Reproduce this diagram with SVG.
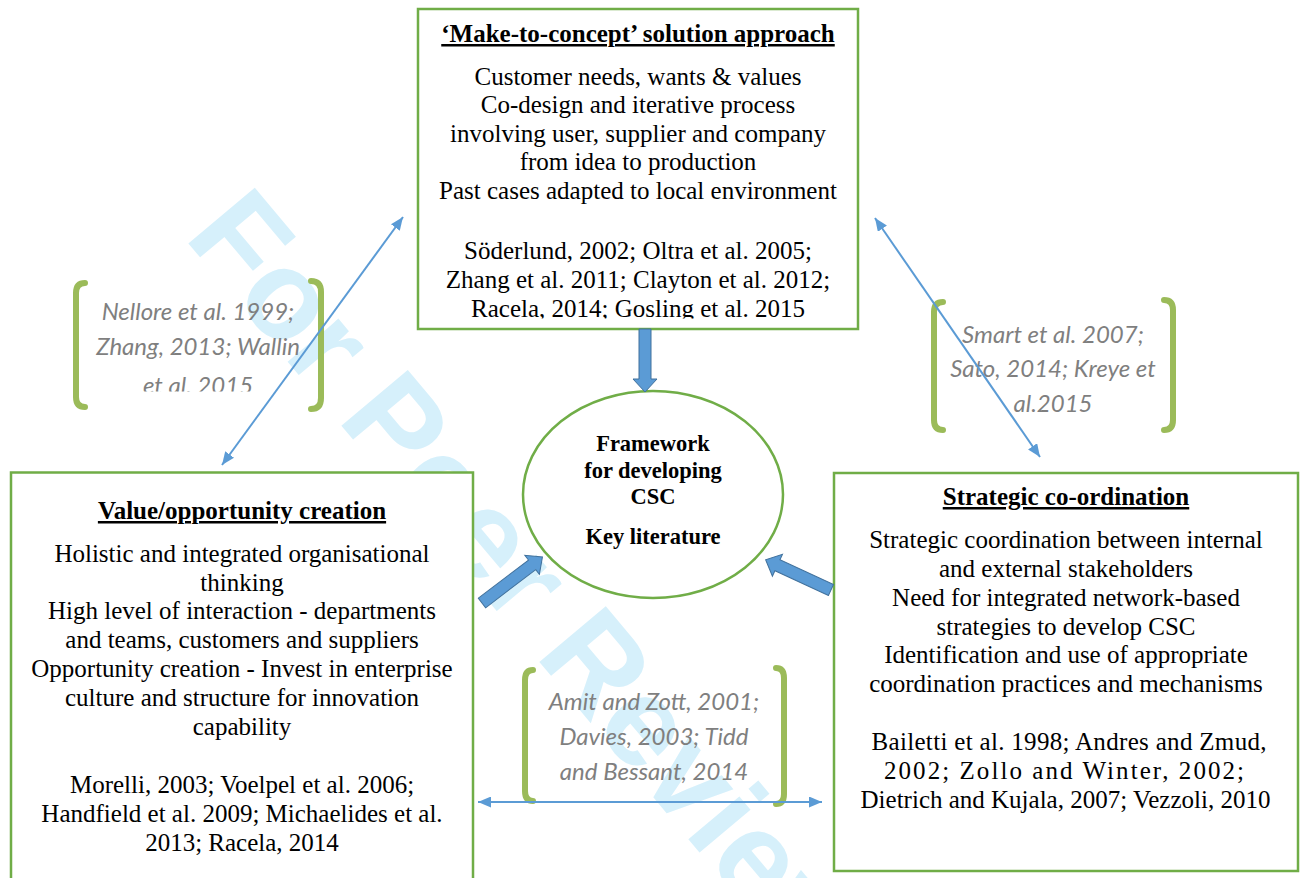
<svg xmlns="http://www.w3.org/2000/svg" width="1301" height="878" viewBox="0 0 1301 878">
<style>
.box{fill:#ffffff;stroke:#70ad47;stroke-width:2.5}
.t{font-family:"Liberation Serif","Times New Roman",serif;font-size:25px;fill:#000;text-anchor:middle}
.h{font-weight:bold;text-decoration:underline}
.c{font-family:"Liberation Serif","Times New Roman",serif;font-size:22.5px;font-weight:bold;fill:#000;text-anchor:middle}
.g{font-family:Lato,"Open Sans",sans-serif;font-style:italic;font-size:24px;fill:#7f7f7f;text-anchor:middle}
.br{fill:none;stroke:#9bbb59;stroke-width:6;stroke-linecap:round}
.ln{fill:none;stroke:#5b9bd5;stroke-width:2}
.blk{fill:#5b9bd5;stroke:#41719c;stroke-width:1}
.wm{font-family:"Liberation Sans",Arial,sans-serif;font-weight:bold;font-size:126px;fill:#d6f0fb}
</style>
<defs>
<marker id="ah" viewBox="0 0 13 11" refX="13" refY="5.5" markerWidth="13" markerHeight="11" markerUnits="userSpaceOnUse" orient="auto-start-reverse">
<path d="M0,0 L13,5.5 L0,11 Z" fill="#5b9bd5"/>
</marker>
<clipPath id="clipTop"><rect x="418" y="9" width="440" height="309.5"/></clipPath>
<clipPath id="clipL"><rect x="60" y="270" width="280" height="121.5"/></clipPath>
</defs>
<rect width="1301" height="878" fill="#ffffff"/>
<text class="wm" x="183" y="237" transform="rotate(50 183 237)">For Peer Review</text>

<g id="top-node">
<rect class="box" x="418" y="9" width="440" height="320"/>
<g clip-path="url(#clipTop)">
<text class="t h" x="638" y="42">‘Make-to-concept’ solution approach</text>
<text class="t" x="638" y="84.5">Customer needs, wants &amp; values</text>
<text class="t" x="638" y="113">Co-design and iterative process</text>
<text class="t" x="638" y="141.7">involving user, supplier and company</text>
<text class="t" x="638" y="170.4">from idea to production</text>
<text class="t" x="638" y="199">Past cases adapted to local environment</text>
<text class="t" x="638" y="259">Söderlund, 2002; Oltra et al. 2005;</text>
<text class="t" x="638" y="288">Zhang et al. 2011; Clayton et al. 2012;</text>
<text class="t" x="638" y="317">Racela, 2014; Gosling et al. 2015</text>
</g>
</g>

<g id="bracket-left">
<path class="br" d="M85,283 Q76,283 76,293 L76,397 Q76,407 85,407"/>
<path class="br" d="M311,281 Q321,281 321,292 L321,398 Q321,409 311,409"/>
<g clip-path="url(#clipL)">
<text class="g" x="198" y="320">Nellore et al. 1999;</text>
<text class="g" x="198" y="355">Zhang, 2013; Wallin</text>
<text class="g" x="198" y="393.5">et al. 2015</text>
</g>
</g>

<g id="bracket-right">
<path class="br" d="M943,302 Q934,302 934,312 L934,420 Q934,430 943,430"/>
<path class="br" d="M1164,300 Q1173,300 1173,310 L1173,420 Q1173,430 1164,430"/>
<text class="g" x="1053" y="343">Smart et al. 2007;</text>
<text class="g" x="1053" y="377">Sato, 2014; Kreye et</text>
<text class="g" x="1053" y="412">al.2015</text>
</g>

<g id="bracket-bottom">
<path class="br" d="M533,670 Q525,670 525,680 L525,791 Q525,801 533,801"/>
<path class="br" d="M776,668 Q784,668 784,678 L784,794 Q784,804 776,804"/>
<text class="g" x="654" y="710">Amit and Zott, 2001;</text>
<text class="g" x="654" y="745">Davies, 2003; Tidd</text>
<text class="g" x="654" y="780">and Bessant, 2014</text>
</g>

<g id="left-node">
<rect class="box" x="11" y="472.5" width="462" height="430"/>
<text class="t h" x="242" y="519">Value/opportunity creation</text>
<text class="t" x="242" y="562">Holistic and integrated organisational</text>
<text class="t" x="242" y="590.5">thinking</text>
<text class="t" x="242" y="619.3">High level of interaction - departments</text>
<text class="t" x="242" y="648">and teams, customers and suppliers</text>
<text class="t" x="242" y="676.9">Opportunity creation - Invest in enterprise</text>
<text class="t" x="242" y="705.7">culture and structure for innovation</text>
<text class="t" x="242" y="734.5">capability</text>
<text class="t" x="242" y="792.7">Morelli, 2003; Voelpel et al. 2006;</text>
<text class="t" x="242" y="821.7">Handfield et al. 2009; Michaelides et al.</text>
<text class="t" x="242" y="850.7">2013; Racela, 2014</text>
</g>

<g id="right-node">
<rect class="box" x="834" y="473" width="464" height="398"/>
<text class="t h" x="1066" y="505">Strategic co-ordination</text>
<text class="t" x="1066" y="548.3">Strategic coordination between internal</text>
<text class="t" x="1066" y="577.3">and external stakeholders</text>
<text class="t" x="1066" y="606">Need for integrated network-based</text>
<text class="t" x="1066" y="634.7">strategies to develop CSC</text>
<text class="t" x="1066" y="663.3">Identification and use of appropriate</text>
<text class="t" x="1066" y="691.7">coordination practices and mechanisms</text>
<text class="t" x="1069" y="750" textLength="395" lengthAdjust="spacing">Bailetti et al. 1998; Andres and Zmud,</text>
<text class="t" x="1064" y="779.3" textLength="360" lengthAdjust="spacing">2002; Zollo and Winter, 2002;</text>
<text class="t" x="1065.5" y="808.3">Dietrich and Kujala, 2007; Vezzoli, 2010</text>
</g>

<g id="center-node">
<ellipse cx="653" cy="494.5" rx="130" ry="103.5" fill="#ffffff" stroke="#70ad47" stroke-width="2.5"/>
<text class="c" x="653" y="451">Framework</text>
<text class="c" x="653" y="477.5">for developing</text>
<text class="c" x="653" y="504">CSC</text>
<text class="c" x="653" y="544">Key literature</text>
</g>

<g id="connectors">
<line class="ln" x1="403" y1="217" x2="222" y2="465" marker-start="url(#ah)" marker-end="url(#ah)"/>
<line class="ln" x1="875" y1="218" x2="1040" y2="457" marker-start="url(#ah)" marker-end="url(#ah)"/>
<line class="ln" x1="478" y1="802" x2="822" y2="802" marker-start="url(#ah)" marker-end="url(#ah)"/>
<path class="blk" transform="translate(645 329) rotate(90)" d="M0,-6 L50,-6 L50,-12 L63,0 L50,12 L50,6 L0,6 Z"/>
<path class="blk" transform="translate(482 603) rotate(-37.3)" d="M0,-6 L63,-6 L63,-12 L76,0 L63,12 L63,6 L0,6 Z"/>
<path class="blk" transform="translate(831 590) rotate(-155.2)" d="M0,-6 L59,-6 L59,-12 L72,0 L59,12 L59,6 L0,6 Z"/>
</g>
</svg>
